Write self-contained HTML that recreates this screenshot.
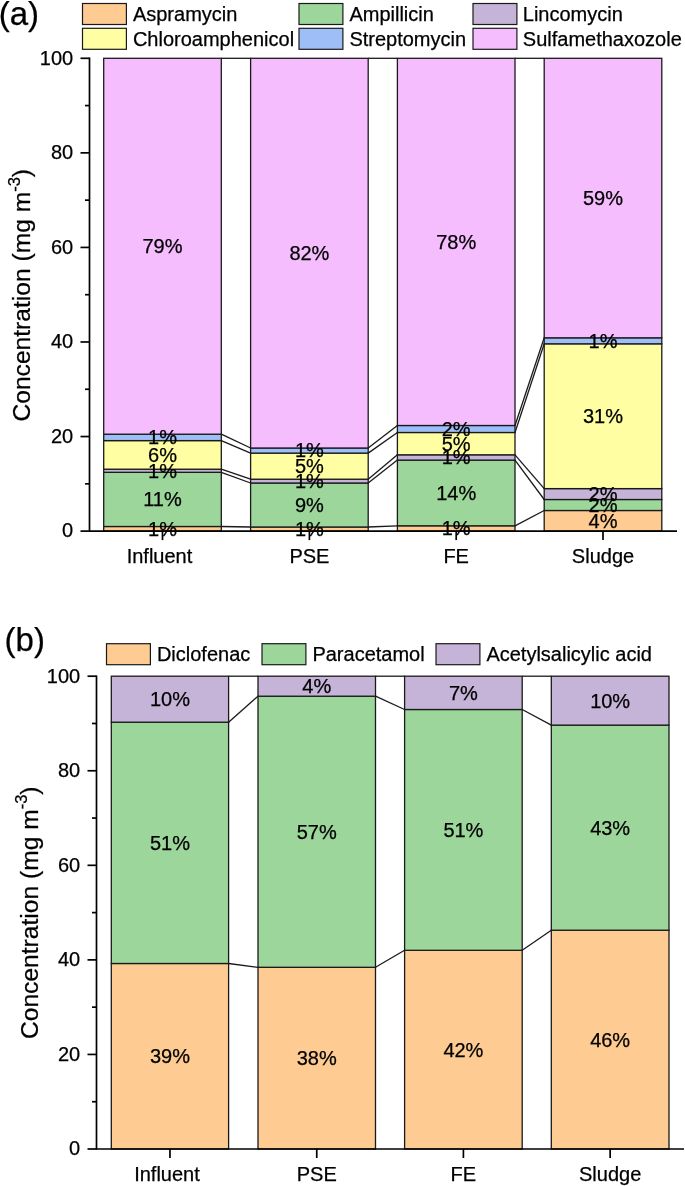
<!DOCTYPE html>
<html><head><meta charset="utf-8"><style>
html,body{margin:0;padding:0;background:#fff;}
svg{display:block;will-change:transform;}
text{stroke:#000;stroke-width:0.25px;}
</style></head><body>
<svg width="685" height="1186" viewBox="0 0 685 1186" font-family='"Liberation Sans", sans-serif' fill="#000">
<rect width="685" height="1186" fill="#fff"/>
<text x="-1.30" y="25.00" font-size="33" text-anchor="start" >(a)</text>
<rect x="82.50" y="3.50" width="43.9" height="21.0" fill="#FECC92" stroke="#1a1a1a" stroke-width="1.2"/>
<text x="132.90" y="21.00" font-size="20" text-anchor="start" >Aspramycin</text>
<rect x="82.50" y="28.30" width="43.9" height="21.0" fill="#FFFEA2" stroke="#1a1a1a" stroke-width="1.2"/>
<text x="132.90" y="45.80" font-size="20" text-anchor="start" >Chloroamphenicol</text>
<rect x="299.00" y="3.50" width="43.9" height="21.0" fill="#9CD69B" stroke="#1a1a1a" stroke-width="1.2"/>
<text x="349.40" y="21.00" font-size="20" text-anchor="start" >Ampillicin</text>
<rect x="299.00" y="28.30" width="43.9" height="21.0" fill="#9EBEF7" stroke="#1a1a1a" stroke-width="1.2"/>
<text x="349.40" y="45.80" font-size="20" text-anchor="start" >Streptomycin</text>
<rect x="473.00" y="3.50" width="43.9" height="21.0" fill="#C6B4D8" stroke="#1a1a1a" stroke-width="1.2"/>
<text x="522.80" y="21.00" font-size="20" text-anchor="start" >Lincomycin</text>
<rect x="473.00" y="28.30" width="43.9" height="21.0" fill="#F6BDFE" stroke="#1a1a1a" stroke-width="1.2"/>
<text x="522.80" y="45.80" font-size="20" text-anchor="start" >Sulfamethaxozole</text>
<rect x="103.70" y="526.50" width="117.60" height="4.60" fill="#FECC92" stroke="#1a1a1a" stroke-width="1.3"/>
<rect x="103.70" y="472.30" width="117.60" height="54.20" fill="#9CD69B" stroke="#1a1a1a" stroke-width="1.3"/>
<rect x="103.70" y="469.20" width="117.60" height="3.10" fill="#C6B4D8" stroke="#1a1a1a" stroke-width="1.3"/>
<rect x="103.70" y="440.60" width="117.60" height="28.60" fill="#FFFEA2" stroke="#1a1a1a" stroke-width="1.3"/>
<rect x="103.70" y="434.20" width="117.60" height="6.40" fill="#9EBEF7" stroke="#1a1a1a" stroke-width="1.3"/>
<rect x="103.70" y="58.30" width="117.60" height="375.90" fill="#F6BDFE" stroke="#1a1a1a" stroke-width="1.3"/>
<rect x="250.60" y="527.00" width="117.60" height="4.10" fill="#FECC92" stroke="#1a1a1a" stroke-width="1.3"/>
<rect x="250.60" y="483.00" width="117.60" height="44.00" fill="#9CD69B" stroke="#1a1a1a" stroke-width="1.3"/>
<rect x="250.60" y="479.20" width="117.60" height="3.80" fill="#C6B4D8" stroke="#1a1a1a" stroke-width="1.3"/>
<rect x="250.60" y="453.10" width="117.60" height="26.10" fill="#FFFEA2" stroke="#1a1a1a" stroke-width="1.3"/>
<rect x="250.60" y="448.00" width="117.60" height="5.10" fill="#9EBEF7" stroke="#1a1a1a" stroke-width="1.3"/>
<rect x="250.60" y="58.30" width="117.60" height="389.70" fill="#F6BDFE" stroke="#1a1a1a" stroke-width="1.3"/>
<rect x="397.40" y="525.80" width="117.60" height="5.30" fill="#FECC92" stroke="#1a1a1a" stroke-width="1.3"/>
<rect x="397.40" y="460.10" width="117.60" height="65.70" fill="#9CD69B" stroke="#1a1a1a" stroke-width="1.3"/>
<rect x="397.40" y="454.80" width="117.60" height="5.30" fill="#C6B4D8" stroke="#1a1a1a" stroke-width="1.3"/>
<rect x="397.40" y="432.50" width="117.60" height="22.30" fill="#FFFEA2" stroke="#1a1a1a" stroke-width="1.3"/>
<rect x="397.40" y="425.50" width="117.60" height="7.00" fill="#9EBEF7" stroke="#1a1a1a" stroke-width="1.3"/>
<rect x="397.40" y="58.30" width="117.60" height="367.20" fill="#F6BDFE" stroke="#1a1a1a" stroke-width="1.3"/>
<rect x="544.20" y="510.50" width="117.60" height="20.60" fill="#FECC92" stroke="#1a1a1a" stroke-width="1.3"/>
<rect x="544.20" y="499.50" width="117.60" height="11.00" fill="#9CD69B" stroke="#1a1a1a" stroke-width="1.3"/>
<rect x="544.20" y="488.60" width="117.60" height="10.90" fill="#C6B4D8" stroke="#1a1a1a" stroke-width="1.3"/>
<rect x="544.20" y="343.80" width="117.60" height="144.80" fill="#FFFEA2" stroke="#1a1a1a" stroke-width="1.3"/>
<rect x="544.20" y="337.80" width="117.60" height="6.00" fill="#9EBEF7" stroke="#1a1a1a" stroke-width="1.3"/>
<rect x="544.20" y="58.30" width="117.60" height="279.50" fill="#F6BDFE" stroke="#1a1a1a" stroke-width="1.3"/>
<line x1="221.30" y1="526.50" x2="250.60" y2="527.00" stroke="#1a1a1a" stroke-width="1.3"/>
<line x1="221.30" y1="472.30" x2="250.60" y2="483.00" stroke="#1a1a1a" stroke-width="1.3"/>
<line x1="221.30" y1="469.20" x2="250.60" y2="479.20" stroke="#1a1a1a" stroke-width="1.3"/>
<line x1="221.30" y1="440.60" x2="250.60" y2="453.10" stroke="#1a1a1a" stroke-width="1.3"/>
<line x1="221.30" y1="434.20" x2="250.60" y2="448.00" stroke="#1a1a1a" stroke-width="1.3"/>
<line x1="221.30" y1="58.30" x2="250.60" y2="58.30" stroke="#1a1a1a" stroke-width="1.3"/>
<line x1="368.20" y1="527.00" x2="397.40" y2="525.80" stroke="#1a1a1a" stroke-width="1.3"/>
<line x1="368.20" y1="483.00" x2="397.40" y2="460.10" stroke="#1a1a1a" stroke-width="1.3"/>
<line x1="368.20" y1="479.20" x2="397.40" y2="454.80" stroke="#1a1a1a" stroke-width="1.3"/>
<line x1="368.20" y1="453.10" x2="397.40" y2="432.50" stroke="#1a1a1a" stroke-width="1.3"/>
<line x1="368.20" y1="448.00" x2="397.40" y2="425.50" stroke="#1a1a1a" stroke-width="1.3"/>
<line x1="368.20" y1="58.30" x2="397.40" y2="58.30" stroke="#1a1a1a" stroke-width="1.3"/>
<line x1="515.00" y1="525.80" x2="544.20" y2="510.50" stroke="#1a1a1a" stroke-width="1.3"/>
<line x1="515.00" y1="460.10" x2="544.20" y2="499.50" stroke="#1a1a1a" stroke-width="1.3"/>
<line x1="515.00" y1="454.80" x2="544.20" y2="488.60" stroke="#1a1a1a" stroke-width="1.3"/>
<line x1="515.00" y1="432.50" x2="544.20" y2="343.80" stroke="#1a1a1a" stroke-width="1.3"/>
<line x1="515.00" y1="425.50" x2="544.20" y2="337.80" stroke="#1a1a1a" stroke-width="1.3"/>
<line x1="515.00" y1="58.30" x2="544.20" y2="58.30" stroke="#1a1a1a" stroke-width="1.3"/>
<line x1="89.50" y1="57.50" x2="89.50" y2="531.90" stroke="#000" stroke-width="1.7"/>
<line x1="89.50" y1="531.10" x2="677.00" y2="531.10" stroke="#000" stroke-width="1.7"/>
<line x1="80.50" y1="531.10" x2="89.50" y2="531.10" stroke="#000" stroke-width="1.7"/>
<text x="73.20" y="537.40" font-size="20" text-anchor="end" >0</text>
<line x1="85.00" y1="483.82" x2="89.50" y2="483.82" stroke="#000" stroke-width="1.7"/>
<line x1="80.50" y1="436.54" x2="89.50" y2="436.54" stroke="#000" stroke-width="1.7"/>
<text x="73.20" y="442.84" font-size="20" text-anchor="end" >20</text>
<line x1="85.00" y1="389.26" x2="89.50" y2="389.26" stroke="#000" stroke-width="1.7"/>
<line x1="80.50" y1="341.98" x2="89.50" y2="341.98" stroke="#000" stroke-width="1.7"/>
<text x="73.20" y="348.28" font-size="20" text-anchor="end" >40</text>
<line x1="85.00" y1="294.70" x2="89.50" y2="294.70" stroke="#000" stroke-width="1.7"/>
<line x1="80.50" y1="247.42" x2="89.50" y2="247.42" stroke="#000" stroke-width="1.7"/>
<text x="73.20" y="253.72" font-size="20" text-anchor="end" >60</text>
<line x1="85.00" y1="200.14" x2="89.50" y2="200.14" stroke="#000" stroke-width="1.7"/>
<line x1="80.50" y1="152.86" x2="89.50" y2="152.86" stroke="#000" stroke-width="1.7"/>
<text x="73.20" y="159.16" font-size="20" text-anchor="end" >80</text>
<line x1="85.00" y1="105.58" x2="89.50" y2="105.58" stroke="#000" stroke-width="1.7"/>
<line x1="80.50" y1="58.30" x2="89.50" y2="58.30" stroke="#000" stroke-width="1.7"/>
<text x="73.20" y="64.60" font-size="20" text-anchor="end" >100</text>
<line x1="162.50" y1="531.10" x2="162.50" y2="540.10" stroke="#000" stroke-width="1.7"/>
<line x1="309.40" y1="531.10" x2="309.40" y2="540.10" stroke="#000" stroke-width="1.7"/>
<line x1="456.20" y1="531.10" x2="456.20" y2="540.10" stroke="#000" stroke-width="1.7"/>
<line x1="603.00" y1="531.10" x2="603.00" y2="540.10" stroke="#000" stroke-width="1.7"/>
<text x="159.50" y="562.60" font-size="20" text-anchor="middle" >Influent</text>
<text x="309.40" y="562.60" font-size="20" text-anchor="middle" >PSE</text>
<text x="456.20" y="562.60" font-size="20" text-anchor="middle" >FE</text>
<text x="603.00" y="562.60" font-size="20" text-anchor="middle" >Sludge</text>
<text x="162.50" y="535.70" font-size="20" text-anchor="middle" >1%</text>
<text x="162.50" y="506.30" font-size="20" text-anchor="middle" >11%</text>
<text x="162.50" y="477.65" font-size="20" text-anchor="middle" >1%</text>
<text x="162.50" y="461.80" font-size="20" text-anchor="middle" >6%</text>
<text x="162.50" y="444.30" font-size="20" text-anchor="middle" >1%</text>
<text x="162.50" y="253.15" font-size="20" text-anchor="middle" >79%</text>
<text x="309.40" y="535.95" font-size="20" text-anchor="middle" >1%</text>
<text x="309.40" y="511.90" font-size="20" text-anchor="middle" >9%</text>
<text x="309.40" y="488.00" font-size="20" text-anchor="middle" >1%</text>
<text x="309.40" y="473.05" font-size="20" text-anchor="middle" >5%</text>
<text x="309.40" y="457.45" font-size="20" text-anchor="middle" >1%</text>
<text x="309.40" y="260.05" font-size="20" text-anchor="middle" >82%</text>
<text x="456.20" y="535.35" font-size="20" text-anchor="middle" >1%</text>
<text x="456.20" y="499.85" font-size="20" text-anchor="middle" >14%</text>
<text x="456.20" y="464.35" font-size="20" text-anchor="middle" >1%</text>
<text x="456.20" y="450.55" font-size="20" text-anchor="middle" >5%</text>
<text x="456.20" y="435.90" font-size="20" text-anchor="middle" >2%</text>
<text x="456.20" y="248.80" font-size="20" text-anchor="middle" >78%</text>
<text x="603.00" y="527.70" font-size="20" text-anchor="middle" >4%</text>
<text x="603.00" y="511.90" font-size="20" text-anchor="middle" >2%</text>
<text x="603.00" y="500.95" font-size="20" text-anchor="middle" >2%</text>
<text x="603.00" y="423.10" font-size="20" text-anchor="middle" >31%</text>
<text x="603.00" y="347.70" font-size="20" text-anchor="middle" >1%</text>
<text x="603.00" y="204.95" font-size="20" text-anchor="middle" >59%</text>
<text transform="translate(30.3,421.5) rotate(-90)" font-size="24.6">Concentration (mg m<tspan dy="-10.5" font-size="16.5">-3</tspan><tspan dy="10.5">)</tspan></text>
<text x="4.60" y="650.80" font-size="33" text-anchor="start" >(b)</text>
<rect x="106.50" y="643.70" width="43.9" height="21.0" fill="#FECC92" stroke="#1a1a1a" stroke-width="1.2"/>
<text x="156.90" y="661.20" font-size="20" text-anchor="start" >Diclofenac</text>
<rect x="262.00" y="643.70" width="43.9" height="21.0" fill="#9CD69B" stroke="#1a1a1a" stroke-width="1.2"/>
<text x="312.40" y="661.20" font-size="20" text-anchor="start" >Paracetamol</text>
<rect x="436.00" y="643.70" width="43.9" height="21.0" fill="#C6B4D8" stroke="#1a1a1a" stroke-width="1.2"/>
<text x="486.40" y="661.20" font-size="20" text-anchor="start" >Acetylsalicylic acid</text>
<rect x="111.30" y="963.50" width="117.30" height="185.50" fill="#FECC92" stroke="#1a1a1a" stroke-width="1.3"/>
<rect x="111.30" y="722.20" width="117.30" height="241.30" fill="#9CD69B" stroke="#1a1a1a" stroke-width="1.3"/>
<rect x="111.30" y="676.20" width="117.30" height="46.00" fill="#C6B4D8" stroke="#1a1a1a" stroke-width="1.3"/>
<rect x="258.00" y="967.30" width="117.50" height="181.70" fill="#FECC92" stroke="#1a1a1a" stroke-width="1.3"/>
<rect x="258.00" y="696.20" width="117.50" height="271.10" fill="#9CD69B" stroke="#1a1a1a" stroke-width="1.3"/>
<rect x="258.00" y="676.20" width="117.50" height="20.00" fill="#C6B4D8" stroke="#1a1a1a" stroke-width="1.3"/>
<rect x="404.60" y="950.30" width="117.60" height="198.70" fill="#FECC92" stroke="#1a1a1a" stroke-width="1.3"/>
<rect x="404.60" y="709.50" width="117.60" height="240.80" fill="#9CD69B" stroke="#1a1a1a" stroke-width="1.3"/>
<rect x="404.60" y="676.20" width="117.60" height="33.30" fill="#C6B4D8" stroke="#1a1a1a" stroke-width="1.3"/>
<rect x="551.30" y="930.20" width="117.70" height="218.80" fill="#FECC92" stroke="#1a1a1a" stroke-width="1.3"/>
<rect x="551.30" y="725.10" width="117.70" height="205.10" fill="#9CD69B" stroke="#1a1a1a" stroke-width="1.3"/>
<rect x="551.30" y="676.20" width="117.70" height="48.90" fill="#C6B4D8" stroke="#1a1a1a" stroke-width="1.3"/>
<line x1="228.60" y1="963.50" x2="258.00" y2="967.30" stroke="#1a1a1a" stroke-width="1.3"/>
<line x1="228.60" y1="722.20" x2="258.00" y2="696.20" stroke="#1a1a1a" stroke-width="1.3"/>
<line x1="228.60" y1="676.20" x2="258.00" y2="676.20" stroke="#1a1a1a" stroke-width="1.3"/>
<line x1="375.50" y1="967.30" x2="404.60" y2="950.30" stroke="#1a1a1a" stroke-width="1.3"/>
<line x1="375.50" y1="696.20" x2="404.60" y2="709.50" stroke="#1a1a1a" stroke-width="1.3"/>
<line x1="375.50" y1="676.20" x2="404.60" y2="676.20" stroke="#1a1a1a" stroke-width="1.3"/>
<line x1="522.20" y1="950.30" x2="551.30" y2="930.20" stroke="#1a1a1a" stroke-width="1.3"/>
<line x1="522.20" y1="709.50" x2="551.30" y2="725.10" stroke="#1a1a1a" stroke-width="1.3"/>
<line x1="522.20" y1="676.20" x2="551.30" y2="676.20" stroke="#1a1a1a" stroke-width="1.3"/>
<line x1="96.50" y1="675.40" x2="96.50" y2="1149.80" stroke="#000" stroke-width="1.7"/>
<line x1="96.50" y1="1149.00" x2="684.00" y2="1149.00" stroke="#000" stroke-width="1.7"/>
<line x1="87.50" y1="1149.00" x2="96.50" y2="1149.00" stroke="#000" stroke-width="1.7"/>
<text x="80.20" y="1155.30" font-size="20" text-anchor="end" >0</text>
<line x1="92.00" y1="1101.72" x2="96.50" y2="1101.72" stroke="#000" stroke-width="1.7"/>
<line x1="87.50" y1="1054.44" x2="96.50" y2="1054.44" stroke="#000" stroke-width="1.7"/>
<text x="80.20" y="1060.74" font-size="20" text-anchor="end" >20</text>
<line x1="92.00" y1="1007.16" x2="96.50" y2="1007.16" stroke="#000" stroke-width="1.7"/>
<line x1="87.50" y1="959.88" x2="96.50" y2="959.88" stroke="#000" stroke-width="1.7"/>
<text x="80.20" y="966.18" font-size="20" text-anchor="end" >40</text>
<line x1="92.00" y1="912.60" x2="96.50" y2="912.60" stroke="#000" stroke-width="1.7"/>
<line x1="87.50" y1="865.32" x2="96.50" y2="865.32" stroke="#000" stroke-width="1.7"/>
<text x="80.20" y="871.62" font-size="20" text-anchor="end" >60</text>
<line x1="92.00" y1="818.04" x2="96.50" y2="818.04" stroke="#000" stroke-width="1.7"/>
<line x1="87.50" y1="770.76" x2="96.50" y2="770.76" stroke="#000" stroke-width="1.7"/>
<text x="80.20" y="777.06" font-size="20" text-anchor="end" >80</text>
<line x1="92.00" y1="723.48" x2="96.50" y2="723.48" stroke="#000" stroke-width="1.7"/>
<line x1="87.50" y1="676.20" x2="96.50" y2="676.20" stroke="#000" stroke-width="1.7"/>
<text x="80.20" y="682.50" font-size="20" text-anchor="end" >100</text>
<line x1="169.95" y1="1149.00" x2="169.95" y2="1158.00" stroke="#000" stroke-width="1.7"/>
<line x1="316.75" y1="1149.00" x2="316.75" y2="1158.00" stroke="#000" stroke-width="1.7"/>
<line x1="463.40" y1="1149.00" x2="463.40" y2="1158.00" stroke="#000" stroke-width="1.7"/>
<line x1="610.15" y1="1149.00" x2="610.15" y2="1158.00" stroke="#000" stroke-width="1.7"/>
<text x="166.95" y="1180.50" font-size="20" text-anchor="middle" >Influent</text>
<text x="316.75" y="1180.50" font-size="20" text-anchor="middle" >PSE</text>
<text x="463.40" y="1180.50" font-size="20" text-anchor="middle" >FE</text>
<text x="610.15" y="1180.50" font-size="20" text-anchor="middle" >Sludge</text>
<text x="169.95" y="1063.15" font-size="20" text-anchor="middle" >39%</text>
<text x="169.95" y="849.75" font-size="20" text-anchor="middle" >51%</text>
<text x="169.95" y="706.10" font-size="20" text-anchor="middle" >10%</text>
<text x="316.75" y="1065.05" font-size="20" text-anchor="middle" >38%</text>
<text x="316.75" y="838.65" font-size="20" text-anchor="middle" >57%</text>
<text x="316.75" y="693.10" font-size="20" text-anchor="middle" >4%</text>
<text x="463.40" y="1056.55" font-size="20" text-anchor="middle" >42%</text>
<text x="463.40" y="836.80" font-size="20" text-anchor="middle" >51%</text>
<text x="463.40" y="699.75" font-size="20" text-anchor="middle" >7%</text>
<text x="610.15" y="1046.50" font-size="20" text-anchor="middle" >46%</text>
<text x="610.15" y="834.55" font-size="20" text-anchor="middle" >43%</text>
<text x="610.15" y="707.55" font-size="20" text-anchor="middle" >10%</text>
<text transform="translate(37.5,1039) rotate(-90)" font-size="24.6">Concentration (mg m<tspan dy="-10.5" font-size="16.5">-3</tspan><tspan dy="10.5">)</tspan></text>
</svg>
</body></html>
